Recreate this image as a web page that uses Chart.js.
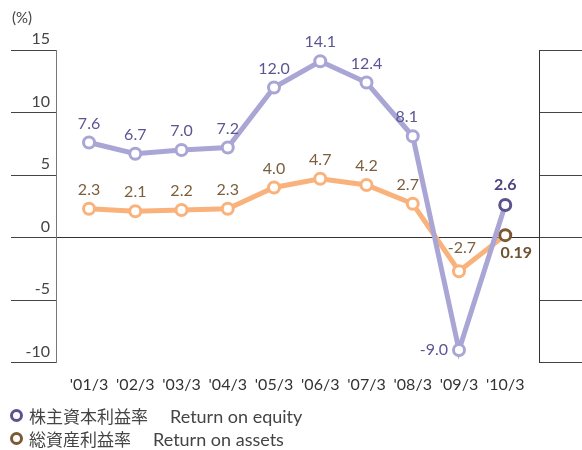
<!DOCTYPE html>
<html>
<head>
<meta charset="utf-8">
<script src="https://cdn.jsdelivr.net/npm/chart.js@4"></script>
<style>
  body { margin: 0; background: #fff; }
  #wrap { position: relative; width: 582px; height: 450px; }
  #unit { position: absolute; left: 12px; top: 8px; font: 15px Lato, "Noto Sans", sans-serif; color: #444; }
  .leg { position: absolute; left: 10px; font: 17px "Noto Sans CJK JP", Lato, sans-serif; color: #444; white-space: nowrap; }
  .leg i { display: inline-block; width: 7px; height: 7px; border-radius: 50%; border: 3px solid; margin-right: 6px; vertical-align: 1px; }
  .leg span { font-family: Lato, "Noto Sans", sans-serif; font-size: 18px; margin-left: 22px; }
</style>
</head>
<body>
<div id="wrap">
  <canvas id="chart" width="582" height="450"></canvas>
  <div id="unit">(%)</div>
  <div class="leg" style="top:403px"><i style="border-color:#5b5290"></i>株主資本利益率<span>Return on equity</span></div>
  <div class="leg" style="top:426px"><i style="border-color:#7a5a35"></i>総資産利益率<span>Return on assets</span></div>
</div>
<script>
const years = ["'01/3", "'02/3", "'03/3", "'04/3", "'05/3", "'06/3", "'07/3", "'08/3", "'09/3", "'10/3"];
const roe = [7.6, 6.7, 7.0, 7.2, 12.0, 14.1, 12.4, 8.1, -9.0, 2.6];
const roa = [2.3, 2.1, 2.2, 2.3, 4.0, 4.7, 4.2, 2.7, -2.7, 0.19];
const yTicks = [-10, -5, 0, 5, 10, 15];

// label placement relative to each point (dx, dy)
const roeOff = [[0,-19],[0,-19],[0,-19],[0,-19],[0,-19],[0,-19],[0,-19],[-6,-19],[-25,0],[0,-20]];
const roaOff = [[0,-19],[0,-19],[0,-19],[0,-19],[0,-19],[0,-19],[0,-19],[-5,-19],[3,-23],[11,18]];

const fmt = (v) => (Math.abs(v * 10 - Math.round(v * 10)) < 1e-9 ? v.toFixed(1) : String(v));
const pts = (arr) => arr.map((v, i) => ({ x: i, y: v }));

const valueLabels = {
  id: "valueLabels",
  afterDatasetsDraw(chart) {
    const ctx = chart.ctx;
    const sets = [
      { idx: 0, data: roe, off: roeOff, color: "#5b5591", last: "#4e4380" },
      { idx: 1, data: roa, off: roaOff, color: "#7b5e3d", last: "#6d5130" },
    ];
    ctx.save();
    ctx.textAlign = "center";
    ctx.textBaseline = "middle";
    for (const s of sets) {
      const meta = chart.getDatasetMeta(s.idx);
      s.data.forEach((v, i) => {
        const el = meta.data[i];
        const isLast = i === s.data.length - 1;
        ctx.font = (isLast ? "bold " : "") + "16px Lato, 'Noto Sans', sans-serif";
        ctx.fillStyle = isLast ? s.last : s.color;
        ctx.fillText(fmt(v), el.x + s.off[i][0], el.y + s.off[i][1]);
      });
    }
    ctx.restore();
  },
};

const setTicks = (vals) => (scale) => {
  scale.ticks = vals.map((v) => ({ value: v }));
};

new Chart(document.getElementById("chart"), {
  type: "line",
  data: {
    datasets: [
      {
        label: "Return on equity",
        data: pts(roe),
        borderColor: "#a9a6d6",
        borderWidth: 5,
        pointRadius: 5.5,
        pointBorderWidth: 3,
        pointBackgroundColor: "#fff",
        pointBorderColor: roe.map((v, i) => (i === roe.length - 1 ? "#5b5290" : "#a9a6d6")),
        tension: 0,
      },
      {
        label: "Return on assets",
        data: pts(roa),
        borderColor: "#fab27c",
        borderWidth: 5,
        pointRadius: 5.5,
        pointBorderWidth: 3,
        pointBackgroundColor: "#fff",
        pointBorderColor: roa.map((v, i) => (i === roa.length - 1 ? "#7a5a35" : "#fab27c")),
        tension: 0,
      },
    ],
  },
  options: {
    responsive: false,
    animation: false,
    layout: { padding: { left: 11, right: 0, top: 50, bottom: 0 } },
    plugins: { legend: { display: false }, tooltip: { enabled: false } },
    scales: {
      x: {
        type: "linear",
        min: -0.714,
        max: 9.73,
        afterBuildTicks: setTicks(years.map((y, i) => i)),
        afterFit: (scale) => { scale.height = 87.5; },
        grid: { display: false },
        border: { display: false },
        ticks: {
          padding: 5,
          color: "#333",
          font: { family: "Lato, 'Noto Sans', sans-serif", size: 16 },
          maxRotation: 0,
          autoSkip: false,
          callback: (v) => years[v],
        },
      },
      y: {
        position: "left",
        min: -10,
        max: 15,
        afterBuildTicks: setTicks(yTicks),
        afterFit: (scale) => { scale.width = 45; },
        grid: {
          color: (c) => (c.tick && c.tick.value === 0 ? "#333" : "rgba(0,0,0,0)"),
          tickColor: "#444",
          tickLength: 45,
          lineWidth: 1,
        },
        border: { color: "#777", width: 1 },
        ticks: {
          padding: -39,
          labelOffset: -11,
          color: "#444",
          font: { family: "Lato, 'Noto Sans', sans-serif", size: 16 },
        },
      },
      y2: {
        position: "right",
        min: -10,
        max: 15,
        afterBuildTicks: setTicks(yTicks),
        afterFit: (scale) => { scale.width = 43; },
        grid: { drawOnChartArea: false, tickColor: "#444", tickLength: 43 },
        border: { color: "#333", width: 1 },
        ticks: { display: false },
      },
    },
  },
  plugins: [valueLabels],
});
</script>
</body>
</html>
